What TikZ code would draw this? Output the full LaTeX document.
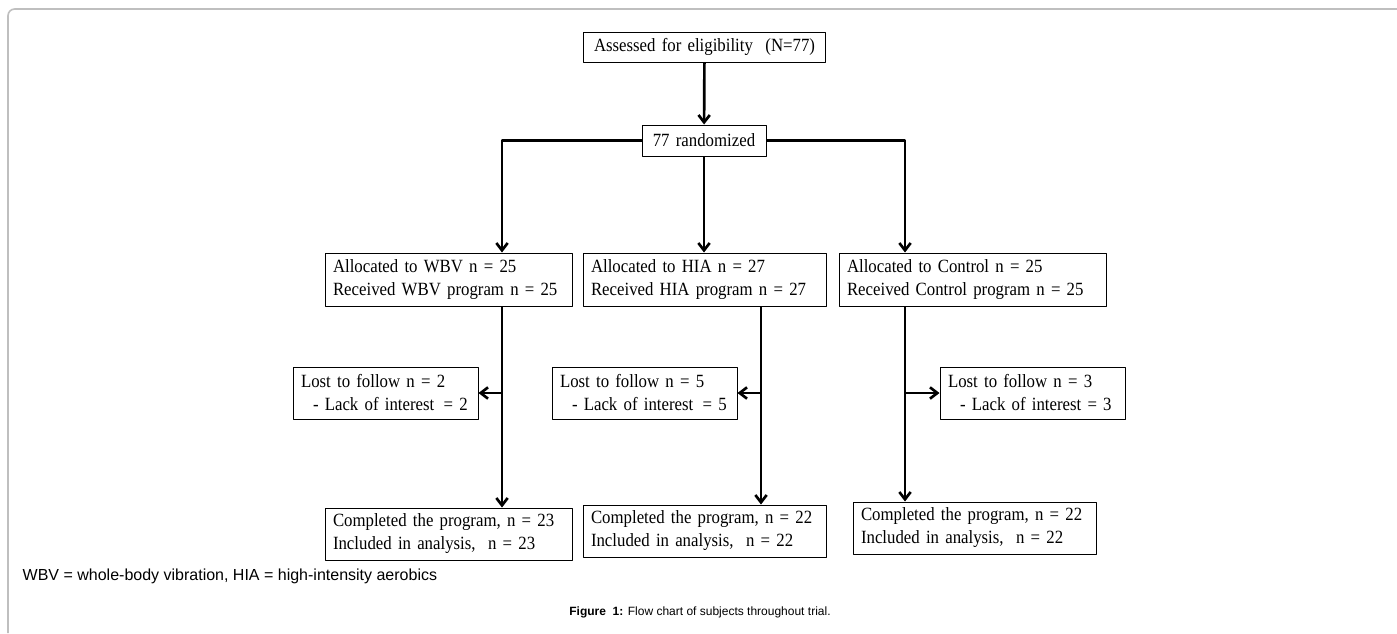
\documentclass[tikz,border=0pt]{standalone}
\usepackage{fontspec}
\setmainfont[FakeStretch=0.9]{Liberation Serif}
\newfontfamily\arialfont{Liberation Sans}
\usetikzlibrary{arrows.meta}
\begin{document}
\begin{tikzpicture}[x=0.75pt,y=-0.75pt,line join=round,
		box/.style={draw,line width=0.75pt,inner xsep=6pt,inner ysep=0pt,align=left,font=\fontsize{14}{17.25}\selectfont},
		arr/.style={line width=2pt,-{Straight Barb[length=5.5pt,width=8.5pt,line width=2pt]}}]
		\useasboundingbox (0,0) rectangle (1397,633);
		\draw[black!25,line width=1.2pt,rounded corners=5] (1397,9)--(8,9)--(8,633);
		% boxes
		\node[box,align=center,text width=170pt,minimum height=22.5pt] (assess) at (704.5,47) {\mbox{Assessed for eligibility\ \ (N=77)}};
		\node[box,align=center,text width=81pt,minimum height=23.25pt] (rand) at (704,140.5) {77 randomized};
		\node[box,text width=173.25pt,minimum height=39.75pt] (wbv) at (448.5,279.5) {Allocated to WBV n = 25\\\mbox{Received WBV program n = 25}};
		\node[box,text width=170.25pt,minimum height=39.75pt] (hia) at (704.5,279.5) {Allocated to HIA n = 27\\\mbox{Received HIA program n = 27}};
		\node[box,text width=188.25pt,minimum height=39.75pt] (ctrl) at (972.5,279.5) {Allocated to Control n = 25\\\mbox{Received Control program n = 25}};
		\node[box,text width=126.75pt,minimum height=39pt] (lostA) at (385.5,393) {Lost to follow n = 2\\\mbox{\hspace{9pt}- Lack of interest\,\ = 2}};
		\node[box,text width=126.75pt,minimum height=39pt] (lostB) at (644.5,393) {Lost to follow n = 5\\\mbox{\hspace{9pt}- Lack of interest\,\ = 5}};
		\node[box,text width=126.75pt,minimum height=39pt] (lostC) at (1032.5,393) {Lost to follow n = 3\\\mbox{\hspace{9pt}- Lack of interest = 3}};
		\node[box,text width=173.25pt,minimum height=39pt] (doneA) at (448.5,534) {\mbox{Completed the program, n = 23}\\Included in analysis,\ \ n = 23};
		\node[box,text width=170.25pt,minimum height=39pt] (doneB) at (704.5,531) {\mbox{Completed the program, n = 22}\\Included in analysis,\ \ n = 22};
		\node[box,text width=170.25pt,minimum height=39pt] (doneC) at (974.5,528) {\mbox{Completed the program, n = 22}\\Included in analysis,\ \ n = 22};
		% columns
		\coordinate (colA) at (502,0);
		\coordinate (colB) at (761,0);
		\coordinate (colC) at (905,0);
		% connectors
		\draw[arr] (assess)--(rand);
		\draw[arr] (rand.west)-|(colA|-wbv.north);
		\draw[arr] (rand)--(rand|-hia.north);
		\draw[arr] (rand.east)-|(colC|-ctrl.north);
		\draw[arr] (colA|-wbv.south)--(colA|-doneA.north);
		\draw[arr] (colB|-hia.south)--(colB|-doneB.north);
		\draw[arr] (colC|-ctrl.south)--(colC|-doneC.north);
		\draw[arr] (colA|-lostA.east)--(lostA.east);
		\draw[arr] (colB|-lostB.east)--(lostB.east);
		\draw[arr] (colC|-lostC.west)--(lostC.west);
		% notes
		\node[anchor=west,font=\arialfont\fontsize{12}{14}\selectfont] (note) at (18,576) {WBV = whole-body vibration, HIA = high-intensity aerobics};
		\node[font=\arialfont\fontsize{9}{11}\selectfont] (caption) at (700,612) {\textbf{Figure\ \ 1:} Flow chart of subjects throughout trial.};
	\end{tikzpicture}
\end{document}
